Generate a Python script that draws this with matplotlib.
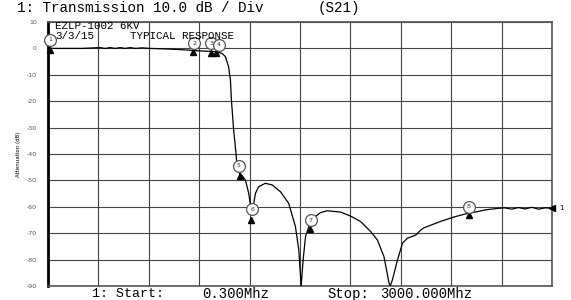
import numpy as np
import matplotlib
matplotlib.use("Agg")
import matplotlib.pyplot as plt

# trace (MHz, dB)
freq = [0.3, 50, 100, 200, 310, 340, 370, 400, 430, 460, 490, 520, 560, 609,
        700, 800, 865, 920, 972, 1002, 1020, 1036, 1056, 1075, 1086, 1092,
        1104, 1118, 1124, 1133, 1143, 1155, 1175, 1195, 1205, 1214, 1225,
        1235, 1254, 1294, 1334, 1384, 1433, 1473, 1493, 1507, 1519, 1533,
        1563, 1592, 1622, 1662, 1742, 1801, 1861, 1921, 1961, 2000, 2030,
        2037, 2050, 2080, 2110, 2139, 2189, 2219, 2237, 2338, 2420, 2497,
        2560, 2600, 2676, 2720, 2760, 2800, 2840, 2880, 2920, 2960, 3000]
atten = [0.0, 0.0, 0.0, 0.0, 0.3, 0.0, 0.3, 0.0, 0.3, 0.0, 0.3, 0.0, 0.2, 0.0,
         -0.2, -0.5, -0.8, -1.0, -1.1, -1.3, -1.6, -1.9, -3.1, -6.9, -12.0,
         -19.5, -30.0, -39.0, -43.5, -46.0, -48.0, -48.2, -49.8, -54.9, -59.3,
         -61.0, -58.7, -54.9, -52.4, -51.1, -51.7, -54.3, -58.7, -67.5, -76.4,
         -90.0, -80.0, -71.3, -65.5, -63.7, -62.2, -61.5, -62.0, -63.5, -65.6,
         -69.4, -72.6, -78.9, -88.9, -90.0, -87.7, -80.2, -73.8, -71.9, -70.7,
         -68.8, -68.0, -65.5, -63.8, -62.5, -61.8, -61.2, -60.6, -60.4, -60.9,
         -60.3, -60.8, -60.2, -60.9, -60.4, -60.6]

# markers: numbered circle + arrow underneath
mk_labels = ["1", "2", "3", "4", "5", "6", "7", "8"]
mk_circle_f = [12, 870, 972, 1016, 1135, 1215, 1563, 2505]
mk_circle_db = [3.3, 1.9, 1.9, 1.4, -44.4, -60.9, -65.0, -60.0]
mk_arrow_f = [12, 865, 972, 1002, 1141, 1211, 1559, 2505]
mk_arrow_db = [-0.6, -1.5, -1.9, -1.9, -48.5, -65.0, -68.5, -63.0]

yticks = list(range(-90, 11, 10))
W, H = 571, 300


def px(x, y):
    return x / W, 1 - y / H


fig = plt.figure(figsize=(W / 100, H / 100), dpi=100)
ax = fig.add_axes([48 / W, 14 / H, 504 / W, 264 / H])

ax.plot(freq, atten, color="black", lw=0.9, zorder=3)

ax.plot(mk_arrow_f, mk_arrow_db, ls="none", marker="^", ms=4.5,
        color="black", zorder=4, clip_on=False)
ax.plot(mk_circle_f, mk_circle_db, ls="none", marker="o", ms=8.5,
        mfc="white", mec="#555555", mew=0.9, zorder=5, clip_on=False)
for lab, f, d in zip(mk_labels, mk_circle_f, mk_circle_db):
    ax.text(f, d, lab, fontsize=4.5, ha="center", va="center",
            color="#333333", zorder=6, clip_on=False)

# reference level arrow on the right
ax.plot([3000], [-60.6], marker="<", ms=5, color="black", clip_on=False,
        zorder=4)
fig.text(*px(561, 208), "1", fontsize=5, ha="center", va="center")

ax.set_xlim(0.3, 3000)
ax.set_ylim(-90, 10)
ax.set_xticks(np.linspace(0.3, 3000, 11))
ax.set_xticklabels([])
ax.set_yticks(yticks)
ax.set_yticklabels([str(t) for t in yticks], fontsize=4.5, color="#555555")
ax.tick_params(length=0, pad=8)
ax.grid(True, color="#444444", lw=0.8)
for s in ["top", "right", "bottom"]:
    ax.spines[s].set_color("#555555")
    ax.spines[s].set_linewidth(1.2)
ax.spines["left"].set_linewidth(2)
ax.set_ylabel("Attenuation (dB)", fontsize=4, labelpad=4)

mono = "Liberation Mono"
fig.text(*px(17, 8), "1: Transmission 10.0 dB / Div", family=mono,
         fontsize=10.3, va="center")
fig.text(*px(318, 8), "(S21)", family=mono, fontsize=10.3, va="center")
fig.text(*px(55, 26), "EZLP-1002 6KV", family=mono, fontsize=7.8,
         va="center")
fig.text(*px(55, 36), "3/3/15", family=mono, fontsize=7.8, va="center")
fig.text(*px(130, 36), "TYPICAL RESPONSE", family=mono, fontsize=7.8,
         va="center")

fig.text(*px(92, 294), "1: Start:", family=mono, fontsize=9.5, va="center")
fig.text(*px(202, 294), "0.300Mhz", family=mono, fontsize=10, va="center")
fig.text(*px(327, 294), "Stop:", family=mono, fontsize=10, va="center")
fig.text(*px(380, 294), "3000.000Mhz", family=mono, fontsize=10,
         va="center")

fig.savefig("out.png", dpi=100)
